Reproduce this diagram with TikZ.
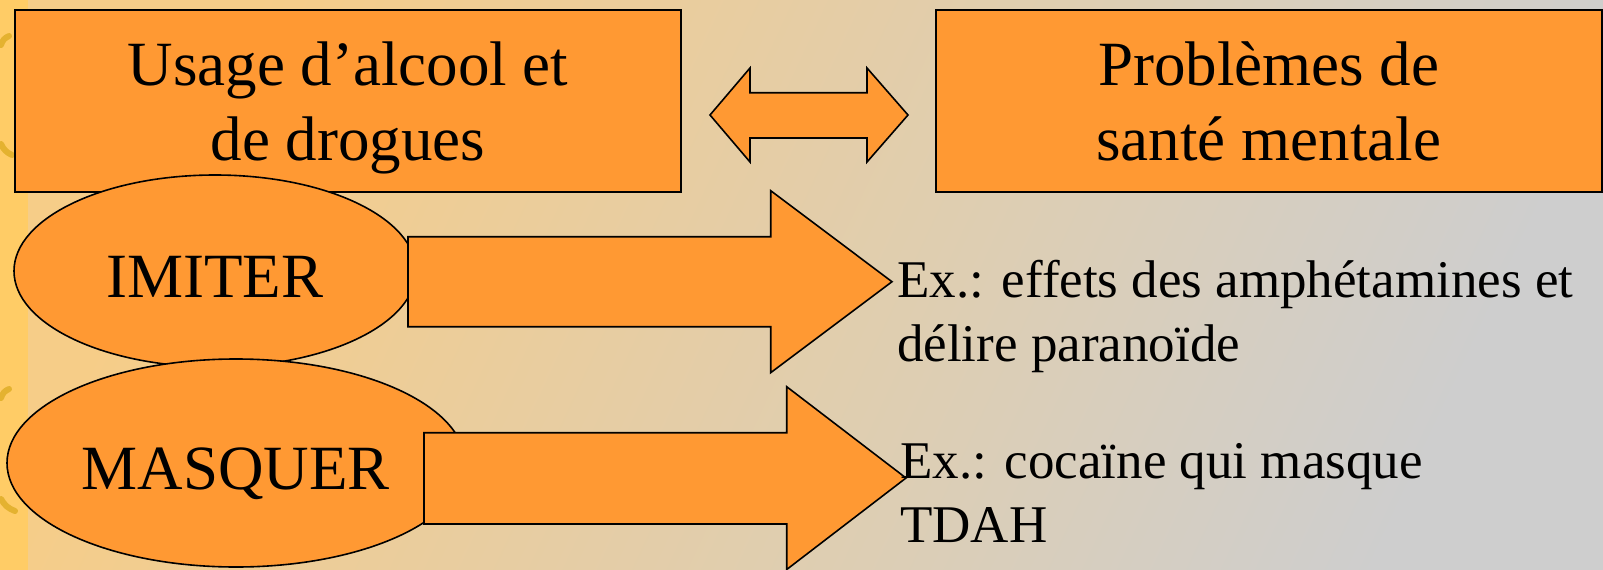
\documentclass[tikz,border=0pt]{standalone}
\usepackage{fontspec}
\setmainfont{Liberation Serif}
\usetikzlibrary{shapes.geometric}

\definecolor{boxorange}{RGB}{255,153,51}
\definecolor{stripeyellow}{RGB}{255,204,102}
\definecolor{markgold}{RGB}{228,178,48}
\definecolor{bgtan}{RGB}{246,205,136}
\definecolor{bggrey}{RGB}{206,206,206}

\tikzset{
  topbox/.style={draw, line width=2pt, fill=boxorange, minimum width=666pt,
    minimum height=182pt, inner sep=0pt, align=center,
    text height=118pt, text depth=0pt,
    font=\fontsize{63}{75}\selectfont},
  oval/.style={draw, ellipse, line width=1.6pt, fill=boxorange, inner sep=0pt,
    text height=53pt, text depth=0pt,
    font=\fontsize{63}{75}\selectfont},
  blockarrow/.style={draw, line width=1.6pt, fill=boxorange, line join=miter},
  extext/.style={anchor=base west, inner sep=0pt, align=left,
    font=\fontsize{53}{64}\selectfont},
  brush/.style={draw=markgold, line width=6pt, line cap=round}
}

\begin{document}
\begin{tikzpicture}[x=1pt, y=-1pt]
   \useasboundingbox (0,0) rectangle (1603,570);
   % background
   \shade[left color=bgtan, right color=bggrey, shading angle=65] (28,0) rectangle (1603,570);
   \fill[stripeyellow] (0,0) rectangle (28,570);
   \draw[brush] (1,45) to[bend left=25] (9,36);
   \draw[brush] (1,144) to[bend right=20] (12,155);
   \draw[brush] (1,398) to[bend left=25] (9,389);
   \draw[brush] (1,499) to[bend right=20] (15,511);

   % the two topics
   \path (348,101) node[topbox] (usage) {Usage d’alcool et\\de drogues};
   \path (1268.7,101) node[topbox] (sante) {Problèmes de\\santé mentale};
   \draw[blockarrow] (710,115) -- (750,68) -- (750,92.7) -- (867,92.7) -- (867,68)
     -- (908,115) -- (867,162) -- (867,138) -- (750,138) -- (750,162) -- cycle;

   % imiter / masquer
   \path (215,271) node[oval, minimum width=402pt, minimum height=192pt] (imiter) {IMITER};
   \path (236,463) node[oval, minimum width=458pt, minimum height=208pt] (masquer) {MASQUER};
   \draw[blockarrow] (408,236.7) -- (770.7,236.7) -- (770.7,190.7) -- (892,281.7)
     -- (770.7,372.7) -- (770.7,326.7) -- (408,326.7) -- cycle;
   \draw[blockarrow] (424,432.7) -- (786.7,432.7) -- (786.7,386.7) -- (906,478)
     -- (786.7,569.5) -- (786.7,524) -- (424,524) -- cycle;

   % examples (base = last line)
   \path (897,361) node[extext] (ex1) {Ex.: effets des amphétamines et\\délire paranoïde};
   \path (900,542) node[extext] (ex2) {Ex.: cocaïne qui masque\\TDAH};
\end{tikzpicture}
\end{document}
